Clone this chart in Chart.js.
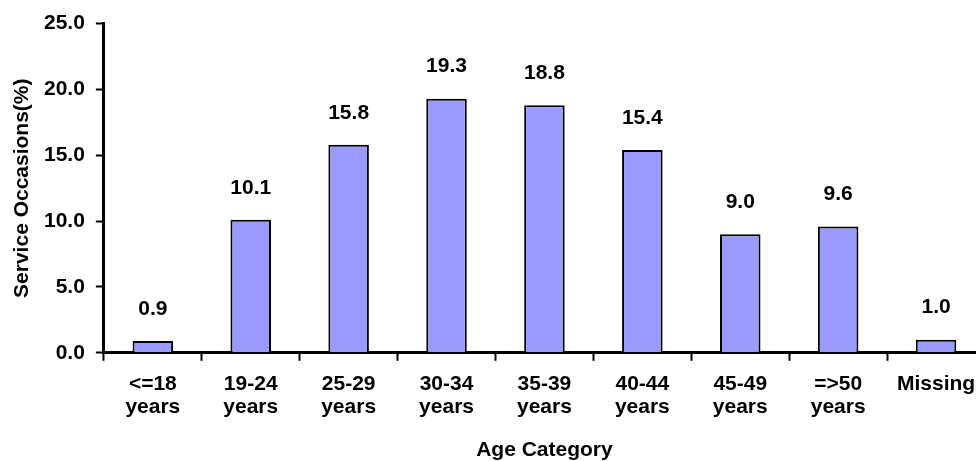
<!DOCTYPE html>
<html>
<head>
<meta charset="utf-8">
<script src="https://cdn.jsdelivr.net/npm/chart.js@4.4.1/dist/chart.umd.min.js"></script>
<style>
  html, body { margin: 0; padding: 0; background: #fff; overflow: hidden; }
  #wrap { width: 990px; height: 461px; }
</style>
</head>
<body>
<div id="wrap"><canvas id="myChart"></canvas></div>
<script>
// age groups and share of service occasions (%)
const categories = [
  ['<=18', 'years'], ['19-24', 'years'], ['25-29', 'years'], ['30-34', 'years'],
  ['35-39', 'years'], ['40-44', 'years'], ['45-49', 'years'], ['=>50', 'years'], 'Missing',
];
const occasions = [0.9, 10.1, 15.8, 19.3, 18.8, 15.4, 9.0, 9.6, 1.0];
const yTicks = [0, 5, 10, 15, 20, 25];

Chart.defaults.font.family = '"Liberation Sans", Arial, sans-serif';
Chart.defaults.font.size = 21;
Chart.defaults.font.weight = 'bold';
Chart.defaults.color = '#000';

// value labels above each bar
const barValues = {
  id: 'barValues',
  afterDatasetsDraw(chart) {
    const ctx = chart.ctx;
    const meta = chart.getDatasetMeta(0);
    ctx.save();
    ctx.font = 'bold 21px "Liberation Sans", Arial, sans-serif';
    ctx.fillStyle = '#000';
    ctx.textAlign = 'center';
    ctx.textBaseline = 'middle';
    meta.data.forEach((bar, i) => {
      ctx.fillText(occasions[i].toFixed(1), bar.x, bar.y - 32);
    });
    ctx.restore();
  },
};

const myChart = new Chart(document.getElementById('myChart').getContext('2d'), {
  type: 'bar',
  data: {
    labels: categories,
    datasets: [
      {
        label: 'Service Occasions(%)',
        data: occasions,
        backgroundColor: '#9999FF',
        borderColor: '#000',
        borderWidth: 2,
        barPercentage: 0.414,
        categoryPercentage: 1,
      },
    ],
  },
  options: {
    responsive: true,
    maintainAspectRatio: false,
    animation: false,
    layout: {
      padding: { top: 18.5, right: 5, left: 8, bottom: 0 },
    },
    scales: {
      y: {
        min: 0,
        max: 25,
        afterBuildTicks: (axis) => {
          axis.ticks = yTicks.map((v) => ({ value: v }));
        },
        ticks: {
          padding: 11,
          callback: (v) => Number(v).toFixed(1),
        },
        grid: {
          drawOnChartArea: false,
          tickLength: 8,
          tickWidth: 2,
          tickColor: '#000',
        },
        border: { color: '#000', width: 3 },
        title: {
          display: true,
          text: 'Service Occasions(%)',
          font: { lineHeight: 1 },
          padding: { top: 4, bottom: 0 },
        },
      },
      x: {
        ticks: {
          padding: 12,
          maxRotation: 0,
          autoSkip: false,
          font: { lineHeight: 1.1 },
        },
        grid: {
          offset: true,
          drawOnChartArea: false,
          tickLength: 8,
          tickWidth: 2,
          tickColor: '#000',
        },
        border: { color: '#000', width: 3 },
        title: {
          display: true,
          text: 'Age Category',
          font: { lineHeight: 1 },
          padding: { top: 9, bottom: 0 },
        },
      },
    },
    plugins: {
      legend: { display: false },
      tooltip: { enabled: false },
    },
  },
  plugins: [barValues],
});
</script>
</body>
</html>
